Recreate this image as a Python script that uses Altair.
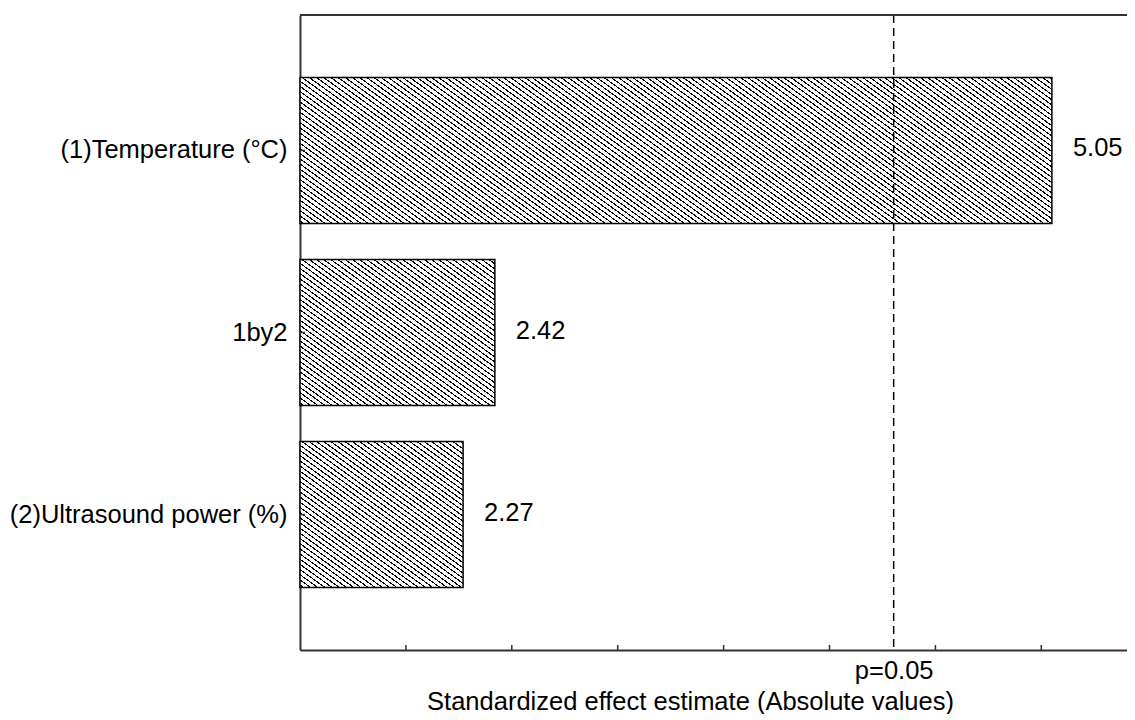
import math
import altair as alt
import pandas as pd

# ---- data ----
factors = ["(1)Temperature (°C)", "1by2", "(2)Ultrasound power (%)"]
effects = [5.05, 2.42, 2.27]
value_labels = ["5.05", "2.42", "2.27"]
p_crit = 4.303
p_label = "p=0.05"
x_ticks = [2.0, 2.5, 3.0, 3.5, 4.0, 4.5, 5.0]
x_title = "Standardized effect estimate (Absolute values)"

# ---- layout / style ----
PX_PER_UNIT = 211.8
XMIN = 1.5
PW, PH = 827, 635
XMAX = XMIN + PW / PX_PER_UNIT
PAD_IN, PAD_OUT = 0.198, 0.343
FONT = "Liberation Sans"
FS = 25.5
AX = "#333333"

step = PH / (len(factors) - PAD_IN + 2 * PAD_OUT)
bandw = step * (1 - PAD_IN)


def hatch(W, H, slope=0.72, period=4.2, lw=1.1):
    """Linear gradient (bbox units) that draws thin diagonal hatch lines."""
    a, b = slope / H, -1.0 / W
    lam = (a - b) / (a * a + b * b)
    x1, y1 = 0.0, 1.0
    x2, y2 = lam * a, 1.0 + lam * b
    E = (W * slope + H) / math.sqrt(1 + slope * slope)
    stops = [{"offset": 0.0, "color": "white"}]
    k = 0
    while True:
        o = (k * period + 1.5) / E
        o2 = o + lw / E
        if o2 >= 1:
            break
        stops += [
            {"offset": o, "color": "white"},
            {"offset": o, "color": "black"},
            {"offset": o2, "color": "black"},
            {"offset": o2, "color": "white"},
        ]
        k += 1
    stops.append({"offset": 1.0, "color": "white"})
    return {"gradient": "linear", "x1": x1, "y1": y1, "x2": x2, "y2": y2, "stops": stops}


df = pd.DataFrame({"factor": factors, "effect": effects, "label": value_labels})

y_enc = alt.Y(
    "factor:N",
    scale=alt.Scale(domain=factors, paddingInner=PAD_IN, paddingOuter=PAD_OUT),
    axis=alt.Axis(
        title=None, ticks=False, domainColor=AX, domainWidth=2,
        labelFont=FONT, labelFontSize=FS, labelColor="black", labelPadding=13,
        labelLimit=0,
    ),
)
x_scale = alt.Scale(domain=[XMIN, XMAX], zero=False, nice=False)
x_enc = alt.X(
    "effect:Q",
    scale=x_scale,
    axis=alt.Axis(
        values=[p_crit], labelExpr=f"'{p_label}'", ticks=False, tickSize=0,
        grid=False, domainColor=AX, domainWidth=2,
        labelFont=FONT, labelFontSize=FS, labelColor="black",
        labelBaseline="alphabetic", labelPadding=28,
        title=x_title, titleFont=FONT, titleFontSize=FS, titleFontWeight="normal",
        titleColor="black", titleX=390, titleY=59, titleBaseline="alphabetic",
    ),
)

base = alt.Chart(df)
layers = []
for f, v in zip(factors, effects):
    W = (v - XMIN) / (XMAX - XMIN) * PW
    layers.append(
        base.transform_filter(alt.datum.factor == f)
        .mark_bar(fill=hatch(W, bandw), stroke="black", strokeWidth=1.5)
        .encode(x=x_enc, x2=alt.datum(XMIN), y=y_enc)
    )

text = base.mark_text(align="left", baseline="middle", dx=21, dy=-2,
                      font=FONT, fontSize=FS, color="black").encode(
    x=alt.X("effect:Q", scale=x_scale), y=alt.Y("factor:N"), text="label:N"
)

pline = alt.Chart(pd.DataFrame({"p": [p_crit]})).mark_rule(
    color="black", strokeWidth=1.5, strokeDash=[8, 5]
).encode(x=alt.X("p:Q", scale=x_scale))

xt = alt.Chart(pd.DataFrame({"t": x_ticks})).mark_rule(color=AX, strokeWidth=1.5).encode(
    x=alt.X("t:Q", scale=x_scale), y=alt.value(PH - 5), y2=alt.value(PH)
)
yt = base.mark_rule(color=AX, strokeWidth=1.5).encode(
    y=alt.Y("factor:N"), x=alt.value(0), x2=alt.value(5)
)
top = alt.Chart(pd.DataFrame({"d": [0]})).mark_rule(color=AX, strokeWidth=2).encode(
    y=alt.value(0), x=alt.value(0), x2=alt.value(PW)
)

chart = alt.layer(*layers, pline, xt, yt, top, text).properties(
    width=PW, height=PH,
    autosize=alt.AutoSizeParams(type="none"),
    padding={"left": 292, "top": 7, "right": 0, "bottom": 64},
    background="white",
).configure_view(stroke=None)

chart.save("out.html", embed_options={"renderer": "svg", "actions": False})
